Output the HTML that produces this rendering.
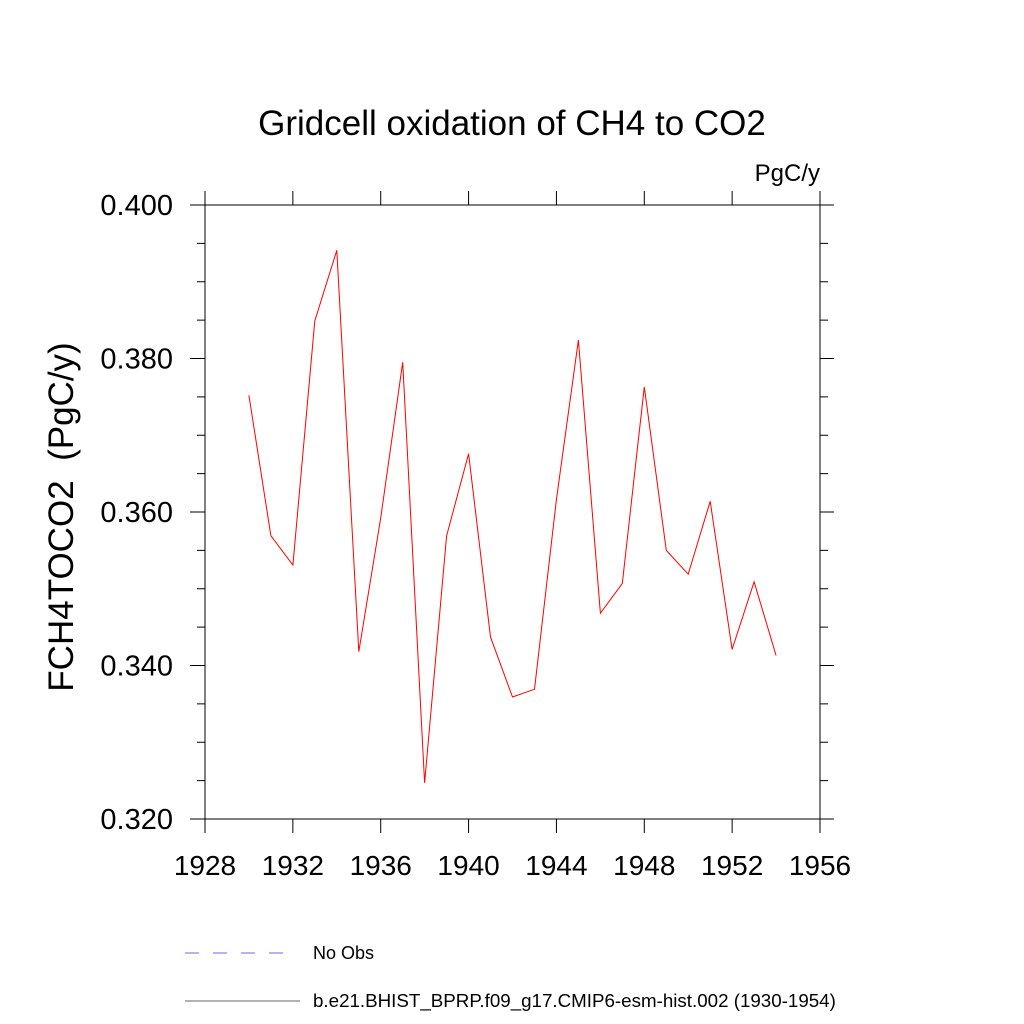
<!DOCTYPE html>
<html><head><meta charset="utf-8"><style>
html,body{margin:0;padding:0;background:#fff;}
svg{display:block;font-family:"Liberation Sans",sans-serif;}
</style></head><body>
<svg id="chart" width="1024" height="1024" viewBox="0 0 1024 1024">
<text x="512" y="135" font-size="35" text-anchor="middle">Gridcell oxidation of CH4 to CO2</text>
<text x="820" y="181" font-size="24" text-anchor="end">PgC/y</text>
<text transform="translate(73,517) rotate(-90)" font-size="35" text-anchor="middle" xml:space="preserve">FCH4TOCO2  (PgC/y)</text>
<g id="axes"></g>
<g id="series"></g>
<g>
<line x1="185" y1="953" x2="292" y2="953" stroke="#6666ff" stroke-width="1" stroke-dasharray="14,14"/>
<text x="313" y="959" font-size="18">No Obs</text>
<line x1="185" y1="1001" x2="300" y2="1001" stroke="#666" stroke-width="1"/>
<text x="313" y="1007" font-size="18.75">b.e21.BHIST_BPRP.f09_g17.CMIP6-esm-hist.002 (1930-1954)</text>
</g>
</svg>
<script>
const years=[1930,1931,1932,1933,1934,1935,1936,1937,1938,1939,1940,1941,1942,1943,1944,1945,1946,1947,1948,1949,1950,1951,1952,1953,1954];
const values=[0.3752,0.3569,0.3531,0.3849,0.3941,0.3418,0.3592,0.3795,0.3247,0.3569,0.3676,0.3437,0.3359,0.3369,0.3616,0.3824,0.3468,0.3507,0.3763,0.3550,0.3519,0.3614,0.3421,0.3509,0.3413];
const xTicks=[1928,1932,1936,1940,1944,1948,1952,1956];
const yTicks=[0.320,0.340,0.360,0.380,0.400];
const yTickLabels=["0.320","0.340","0.360","0.380","0.400"];
const NS="http://www.w3.org/2000/svg";
const L=205,R=820,T=205,B=819;
const xs=v=>L+(v-1928)/(1956-1928)*(R-L);
const ys=v=>B-(v-0.320)/(0.400-0.320)*(B-T);
const ax=document.getElementById('axes');
function mk(tag,attrs,parent){const e=document.createElementNS(NS,tag);for(const k in attrs)e.setAttribute(k,attrs[k]);parent.appendChild(e);return e;}
const fr=mk('rect',{x:L,y:T,width:R-L,height:B-T,fill:'none',stroke:'#000','stroke-width':1},ax);


xTicks.forEach(t=>{const x=xs(t);
 const a=mk('line',{x1:x,y1:B,x2:x,y2:B+14,stroke:'#000'},ax);
 
 
 const b=mk('line',{x1:x,y1:T,x2:x,y2:T-14,stroke:'#000'},ax);
 
 
 const tx=mk('text',{x:x,y:B+56,'font-size':28,'text-anchor':'middle'},ax);tx.textContent=t;
 
 
});
yTicks.forEach((t,i)=>{const y=ys(t);
 const a=mk('line',{x1:L-15,y1:y,x2:L,y2:y,stroke:'#000'},ax);
 
 
 const b=mk('line',{x1:R,y1:y,x2:R+14,y2:y,stroke:'#000'},ax);
 
 
 const tx=mk('text',{x:L-32,y:y+10,'font-size':29,'text-anchor':'end'},ax);tx.textContent=yTickLabels[i];
 
 
});
for(let v=0.325;v<0.4;v+=0.005){if(Math.abs((v*1000)%20)<0.01)continue;const y=ys(v);
 const a=mk('line',{x1:L-8,y1:y,x2:L,y2:y,stroke:'#000'},ax);
 
 
 const b=mk('line',{x1:R,y1:y,x2:R+8,y2:y,stroke:'#000'},ax);
 
 
}
const pts=years.map((yr,i)=>xs(yr).toFixed(1)+','+ys(values[i]).toFixed(1)).join(' ');
const pl=mk('polyline',{points:pts,fill:'none',stroke:'#ff0000','stroke-width':1},document.getElementById('series'));


</script>
</body></html>
